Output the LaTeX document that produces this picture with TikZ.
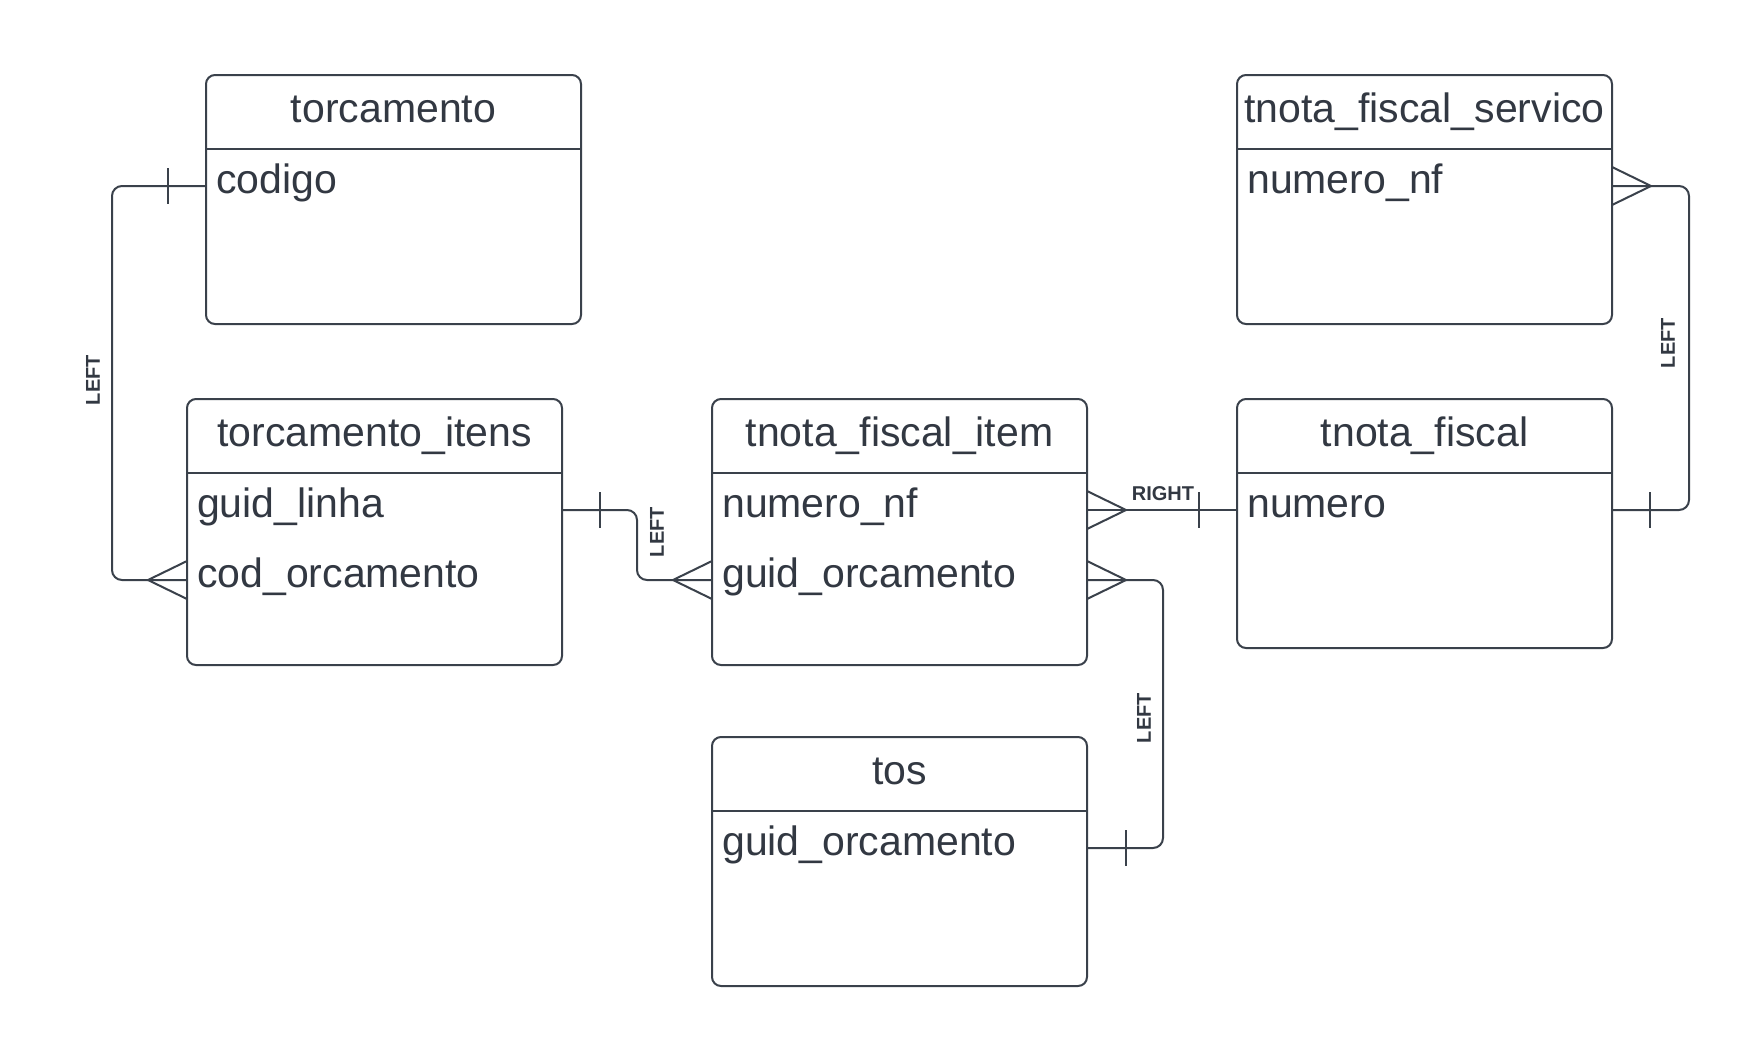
\documentclass[tikz,border=0pt]{standalone}
\usepackage{fontspec}
\setmainfont{Liberation Sans}
\usetikzlibrary{calc}
\definecolor{ln}{RGB}{58,65,75}
\definecolor{tx}{RGB}{50,56,66}
\newcommand{\crowfootL}[1]{\draw[conn] ($(#1)+(0,-19)$) -- ($(#1)+(-39,0)$) -- ($(#1)+(0,19)$);}
\newcommand{\crowfootR}[1]{\draw[conn] ($(#1)+(0,-19)$) -- ($(#1)+(39,0)$) -- ($(#1)+(0,19)$);}
\newcommand{\tickmk}[2]{\draw[conn] ($(#1)+(#2,-18)$) -- ($(#1)+(#2,18)$);}
\newcommand{\ertable}[5]{%
  \node[tbl,minimum height=#4pt] (#1) at (#2,#3) {};
  \draw[conn] ($(#1.north west)+(0,74)$) -- ($(#1.north east)+(0,74)$);
  \node[ttl] (#1T) at ($(#1.north)+(0,47)$) {#5};
  \coordinate (#1R1) at ($(#1.north west)+(0,111)$);
  \coordinate (#1R2) at ($(#1.north west)+(0,181)$);
}
\begin{document}
\begin{tikzpicture}[x=1pt,y=-1pt,
  conn/.style={draw=ln,line width=2pt},
  tbl/.style={draw=ln,line width=2pt,rounded corners=9pt,anchor=north west,inner sep=0pt,outer sep=0pt,minimum width=375pt},
  ttl/.style={text=tx,font=\fontsize{41}{49}\selectfont,anchor=base,inner sep=0pt},
  fld/.style={text=tx,font=\fontsize{41}{49}\selectfont,anchor=base west,inner sep=0pt},
  lbl/.style={text=tx,font=\bfseries\fontsize{20}{24}\selectfont,inner sep=0pt}]
\fill[white] (0,0) rectangle (1764,1061);
\useasboundingbox (0,0) rectangle (1764,1061);

% tables
\ertable{tor}{206}{75}{249}{torcamento}
\node[fld] (torF1) at ($(torR1)+(10,7)$) {codigo};

\ertable{tnfs}{1237}{75}{249}{tnota\_fiscal\_servico}
\node[fld] (tnfsF1) at ($(tnfsR1)+(10,7)$) {numero\_nf};

\ertable{toi}{187}{399}{266}{torcamento\_itens}
\node[fld] (toiF1) at ($(toiR1)+(10,7)$) {guid\_linha};
\node[fld] (toiF2) at ($(toiR2)+(10,7)$) {cod\_orcamento};

\ertable{tnfi}{712}{399}{266}{tnota\_fiscal\_item}
\node[fld] (tnfiF1) at ($(tnfiR1)+(10,7)$) {numero\_nf};
\node[fld] (tnfiF2) at ($(tnfiR2)+(10,7)$) {guid\_orcamento};

\ertable{tnf}{1237}{399}{249}{tnota\_fiscal}
\node[fld] (tnfF1) at ($(tnfR1)+(10,7)$) {numero};

\ertable{tos}{712}{737}{249}{tos}
\node[fld] (tosF1) at ($(tosR1)+(10,7)$) {guid\_orcamento};

% row end coordinates
\coordinate (torA) at (tor.west |- torR1);
\coordinate (toiA) at (toi.west |- toiR2);
\coordinate (toiB) at (toi.east |- toiR1);
\coordinate (tnfiB) at (tnfi.west |- tnfiR2);
\coordinate (tnfiC) at (tnfi.east |- tnfiR1);
\coordinate (tnfC) at (tnf.west |- tnfR1);
\coordinate (tnfD) at (tnf.east |- tnfR1);
\coordinate (tnfsD) at (tnfs.east |- tnfsR1);
\coordinate (tnfiE) at (tnfi.east |- tnfiR2);
\coordinate (tosE) at (tos.east |- tosR1);

% A: torcamento.codigo -- torcamento_itens.cod_orcamento
\draw[conn,rounded corners=10pt] (torA) -- ++(-94,0) |- (toiA);
\tickmk{torA}{-38}
\crowfootL{toiA}
\node[lbl,rotate=90] (lA) at (93,380) {LEFT};

% B: torcamento_itens.guid_linha -- tnota_fiscal_item.guid_orcamento
\draw[conn,rounded corners=10pt] (toiB) -- ++(75,0) |- (tnfiB);
\tickmk{toiB}{38}
\crowfootL{tnfiB}
\node[lbl,rotate=90] (lB) at (657,532) {LEFT};

% C: tnota_fiscal_item.numero_nf -- tnota_fiscal.numero
\draw[conn] (tnfiC) -- (tnfC);
\crowfootR{tnfiC}
\tickmk{tnfC}{-38}
\node[lbl] (lC) at (1163,494) {RIGHT};

% D: tnota_fiscal.numero -- tnota_fiscal_servico.numero_nf
\draw[conn,rounded corners=10pt] (tnfD) -- ++(77,0) |- (tnfsD);
\tickmk{tnfD}{38}
\crowfootR{tnfsD}
\node[lbl,rotate=90] (lD) at (1668,343) {LEFT};

% E: tnota_fiscal_item.guid_orcamento -- tos.guid_orcamento
\draw[conn,rounded corners=10pt] (tnfiE) -- ++(76,0) |- (tosE);
\crowfootR{tnfiE}
\tickmk{tosE}{39}
\node[lbl,rotate=90] (lE) at (1144,718) {LEFT};
\end{tikzpicture}
\end{document}
